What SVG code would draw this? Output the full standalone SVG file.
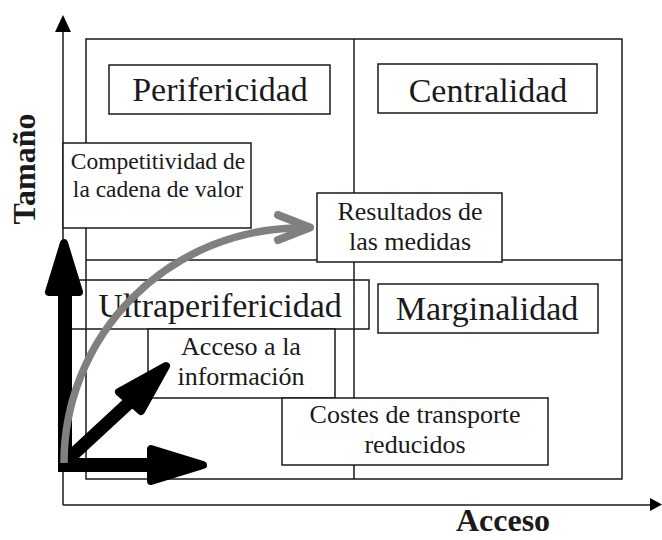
<svg xmlns="http://www.w3.org/2000/svg" width="662" height="540" viewBox="0 0 662 540">
<style>
.ln{fill:none;stroke:#1a1a1a;stroke-width:1.5}
.box{fill:#fff;stroke:#1a1a1a;stroke-width:1.5}
.big{font-family:"Liberation Serif","Times New Roman",serif;font-size:34px;fill:#1a1a1a;text-anchor:middle}
.sm{font-family:"Liberation Serif","Times New Roman",serif;font-size:26px;fill:#1a1a1a;text-anchor:middle}
.ax{font-family:"Liberation Serif","Times New Roman",serif;font-size:32px;font-weight:bold;fill:#1a1a1a;text-anchor:middle}
.blk{fill:#000;stroke:#000;stroke-width:8;stroke-linejoin:round}
</style>
<rect width="662" height="540" fill="#fff"/>
<g id="axes">
<line class="ln" x1="63" y1="28" x2="63" y2="505"/>
<line class="ln" x1="63" y1="505" x2="652" y2="505"/>
<polygon points="63,15 55,32 71,32" fill="#000"/>
<polygon points="650,498 662,504.5 650,511" fill="#000"/>
<text class="ax" x="503" y="531">Acceso</text>
<text class="ax" transform="translate(35,169) rotate(-90)">Tamaño</text>
</g>
<g id="grid">
<rect class="ln" x="86" y="39" width="536" height="440"/>
<line class="ln" x1="354" y1="39" x2="354" y2="479"/>
<line class="ln" x1="86" y1="260" x2="622" y2="260"/>
</g>
<g id="perifericidad">
<rect class="box" x="109" y="65" width="221" height="49"/>
<text class="big" x="220" y="101">Perifericidad</text>
</g>
<g id="centralidad">
<rect class="box" x="378" y="64" width="219" height="49"/>
<text class="big" x="488" y="102">Centralidad</text>
</g>
<g id="marginalidad">
<rect class="box" x="378" y="284" width="220" height="49"/>
<text class="big" x="487" y="320">Marginalidad</text>
</g>
<g id="ultraperifericidad">
<rect class="ln" x="63" y="280" width="306" height="49"/>
<text class="big" x="220" y="317">Ultraperifericidad</text>
</g>
<g id="competitividad">
<rect class="box" x="63" y="143" width="188" height="85"/>
<text class="sm" style="font-size:23.5px" x="158" y="169">Competitividad de</text>
<text class="sm" style="font-size:23.5px" x="158" y="197">la cadena de valor</text>
</g>
<g id="resultados">
<rect class="box" x="317" y="193" width="185" height="69"/>
<text class="sm" x="410" y="220">Resultados de</text>
<text class="sm" x="410" y="250">las medidas</text>
</g>
<g id="acceso-informacion">
<rect class="box" x="148" y="329" width="187" height="69"/>
<text class="sm" x="241" y="355">Acceso a la</text>
<text class="sm" x="241" y="385">información</text>
</g>
<g id="costes">
<rect class="box" x="282" y="398" width="266" height="67"/>
<text class="sm" x="415" y="423">Costes de transporte</text>
<text class="sm" x="415" y="453">reducidos</text>
</g>
<g id="connectors">
<rect x="58" y="288" width="14" height="182" fill="#000"/>
<polygon class="blk" points="64,243 49,292 79,292"/>
<rect x="58" y="458" width="95" height="14" fill="#000"/>
<polygon class="blk" points="203,465 151,449 151,481"/>
<line x1="65" y1="462" x2="132" y2="400" stroke="#000" stroke-width="13"/>
<polygon class="blk" points="166,366 119,392 141,411"/>
<path d="M64,463 A237 235 0 0 1 300,228" fill="none" stroke="#808080" stroke-width="7.5"/>
<polyline points="278,215 310,227.5 278,240" fill="none" stroke="#808080" stroke-width="8" stroke-linecap="round" stroke-linejoin="round"/>
</g>
</svg>
